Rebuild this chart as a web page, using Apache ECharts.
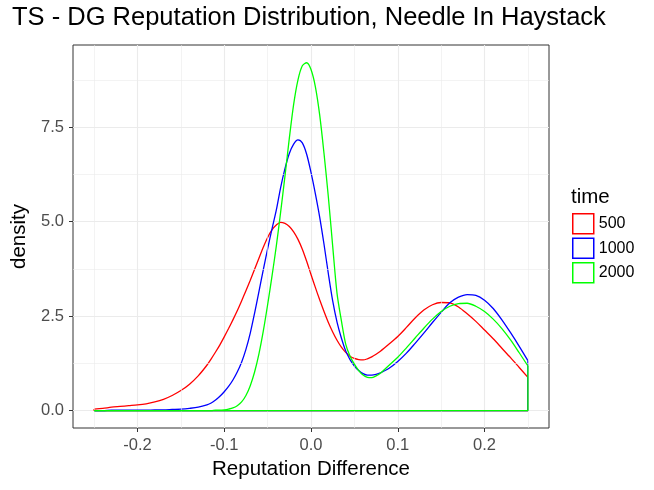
<!DOCTYPE html>
<html>
<head>
<meta charset="utf-8">
<title>TS - DG Reputation Distribution, Needle In Haystack</title>
<script src="https://cdn.jsdelivr.net/npm/echarts@6/dist/echarts.min.js"></script>
<style>
    html, body { margin: 0; padding: 0; background: #ffffff; }
    #chart { width: 654px; height: 490px; }
</style>
</head>
<body>
<div id="chart"></div>
<script>
// reputation difference (x) shared by the three density curves,
// a finer step around the peaks
const xs = [
    -0.25, -0.24, -0.23, -0.22, -0.21, -0.20, -0.19, -0.18, -0.17, -0.16, -0.15, -0.14, -0.13,
    -0.12, -0.115, -0.11, -0.105, -0.10, -0.095, -0.09, -0.085, -0.08, -0.075,
    -0.07, -0.065, -0.06, -0.055, -0.05, -0.045, -0.04, -0.035, -0.03, -0.025,
    -0.02, -0.015, -0.01, -0.005, 0.00, 0.005, 0.01, 0.015, 0.02, 0.025,
    0.03, 0.035, 0.04, 0.045, 0.05, 0.055, 0.06, 0.065, 0.07, 0.075,
    0.08,
    0.09, 0.10, 0.11, 0.12, 0.13, 0.14, 0.15, 0.16, 0.17, 0.18, 0.19, 0.20, 0.21, 0.22, 0.23, 0.24, 0.25
];

// density values, one array per time
const density500 = [
    0.04, 0.06, 0.09, 0.11, 0.13, 0.15, 0.18, 0.23, 0.30, 0.40, 0.53, 0.70, 0.92,
    1.20, 1.37, 1.55, 1.74, 1.95, 2.17, 2.40, 2.64, 2.90, 3.17,
    3.45, 3.74, 4.03, 4.32, 4.58, 4.78, 4.91, 4.98, 4.95, 4.87,
    4.73, 4.53, 4.27, 3.95, 3.60, 3.26, 2.93, 2.62, 2.33, 2.08,
    1.86, 1.68, 1.54, 1.44, 1.38, 1.35, 1.34, 1.37, 1.42, 1.49,
    1.57,
    1.76, 1.96, 2.20, 2.45, 2.66, 2.80, 2.86, 2.85, 2.74, 2.56, 2.36, 2.13, 1.90, 1.65, 1.40, 1.14, 0.88
];
const density1000 = [
    0.00, 0.00, 0.01, 0.01, 0.01, 0.01, 0.01, 0.02, 0.02, 0.03, 0.04, 0.06, 0.09,
    0.15, 0.20, 0.28, 0.38, 0.50, 0.64, 0.81, 1.02, 1.28, 1.62,
    2.05, 2.58, 3.15, 3.72, 4.28, 4.80, 5.30, 5.90, 6.40, 6.80,
    7.05, 7.16, 7.08, 6.78, 6.30, 5.74, 5.12, 4.40, 3.62, 2.90,
    2.34, 1.92, 1.58, 1.35, 1.18, 1.06, 0.98, 0.94, 0.94, 0.96,
    1.00,
    1.12, 1.30, 1.52, 1.78, 2.05, 2.33, 2.60, 2.85, 3.00, 3.07, 3.05, 2.92, 2.70, 2.40, 2.06, 1.70, 1.32
];
const density2000 = [
    0.00, 0.00, 0.00, 0.00, 0.00, 0.00, 0.00, 0.00, 0.00, 0.00, 0.00, 0.00, 0.00,
    0.00, 0.00, 0.01, 0.01, 0.02, 0.04, 0.07, 0.13, 0.23, 0.40,
    0.66, 1.02, 1.50, 2.10, 2.80, 3.55, 4.35, 5.25, 6.20, 7.20,
    8.10, 8.75, 9.12, 9.20, 9.02, 8.57, 7.82, 6.80, 5.65, 4.35,
    3.10, 2.38, 1.76, 1.44, 1.23, 1.06, 0.94, 0.88, 0.87, 0.92,
    0.99,
    1.20, 1.41, 1.66, 1.92, 2.18, 2.42, 2.62, 2.76, 2.83, 2.84, 2.76, 2.62, 2.42, 2.17, 1.87, 1.53, 1.18
];

const times = ['500', '1000', '2000'];
const colors = ['#ff0000', '#0000ff', '#00ff00'];
const densities = [density500, density1000, density2000];

const xTicks = [-0.2, -0.1, 0, 0.1, 0.2];
const xMinor = [-0.25, -0.15, -0.05, 0.05, 0.15, 0.25];
const yTicks = [0, 2.5, 5, 7.5];
const yMinor = [1.25, 3.75, 6.25, 8.75];

const font = '"Liberation Sans", Arial, Helvetica, sans-serif';

function buildSeries() {
    let series = [];
    // minor grid lines, drawn under the curves
    series.push({
        type: 'line',
        name: 'minor-grid',
        data: [],
        silent: true,
        z: 1,
        markLine: {
            silent: true,
            symbol: ['none', 'none'],
            label: { show: false },
            animation: false,
            lineStyle: { color: '#ebebeb', width: 0.6, type: 'solid' },
            data: xMinor.map(v => ({ xAxis: v })).concat(yMinor.map(v => ({ yAxis: v })))
        }
    });
    densities.forEach(function (arr, i) {
        let last = arr.length - 1;
        // the density curve itself
        series.push({
            type: 'line',
            name: times[i],
            data: xs.map((x, k) => [x, arr[k]]),
            smooth: 0.3,
            symbol: 'none',
            silent: true,
            z: 3 + i,
            lineStyle: { color: colors[i], width: 1.3 },
            itemStyle: { color: colors[i] }
        });
        // outline closing the polygon down to the baseline
        series.push({
            type: 'line',
            name: times[i],
            data: [[xs[last], arr[last]], [xs[last], 0], [xs[0], 0], [xs[0], arr[0]]],
            symbol: 'none',
            silent: true,
            z: 3 + i,
            lineStyle: { color: colors[i], width: 1.3 },
            itemStyle: { color: colors[i] }
        });
    });
    return series;
}

let chart = echarts.init(document.getElementById('chart'));
let option = {
    animation: false,
    backgroundColor: '#ffffff',
    textStyle: { fontFamily: font },
    title: [
        {
            text: 'TS - DG Reputation Distribution, Needle In Haystack',
            left: 12,
            top: 5,
            padding: 0,
            textStyle: { fontFamily: font, fontSize: 25.5, fontWeight: 'normal', color: '#000000' }
        },
        {
            text: 'time',
            left: 571,
            top: 187,
            padding: 0,
            textStyle: { fontFamily: font, fontSize: 20.5, fontWeight: 'normal', color: '#000000' }
        }
    ],
    legend: {
        orient: 'vertical',
        left: 572,
        top: 213,
        padding: 0,
        itemWidth: 21,
        itemHeight: 20,
        itemGap: 3,
        icon: 'rect',
        selectedMode: false,
        textStyle: { fontFamily: font, fontSize: 16, color: '#000000' },
        data: times.map((t, i) => ({
            name: t,
            itemStyle: { color: 'rgba(0,0,0,0)', borderColor: colors[i], borderWidth: 1.5 }
        }))
    },
    grid: {
        left: 73,
        top: 45,
        width: 476,
        height: 383,
        show: true,
        borderColor: '#333333',
        borderWidth: 1,
        backgroundColor: '#ffffff',
        containLabel: false
    },
    xAxis: {
        type: 'value',
        min: -0.2743,
        max: 0.2743,
        name: 'Reputation Difference',
        nameLocation: 'middle',
        nameGap: 30,
        nameTextStyle: { fontFamily: font, fontSize: 20.5, color: '#000000' },
        axisLine: { show: false, onZero: false },
        axisTick: { show: true, length: 4, customValues: xTicks, lineStyle: { color: '#333333' } },
        axisLabel: {
            customValues: xTicks,
            formatter: v => v.toFixed(1),
            color: '#4d4d4d',
            fontSize: 16.5,
            margin: 9,
            fontFamily: font
        },
        splitLine: { show: true, lineStyle: { color: '#ebebeb', width: 1.1 } }
    },
    yAxis: {
        type: 'value',
        min: -0.46,
        max: 9.67,
        name: 'density',
        nameLocation: 'middle',
        nameGap: 43,
        nameTextStyle: { fontFamily: font, fontSize: 20.5, color: '#000000' },
        axisLine: { show: false, onZero: false },
        axisTick: { show: true, length: 4, customValues: yTicks, lineStyle: { color: '#333333' } },
        axisLabel: {
            customValues: yTicks,
            formatter: v => v.toFixed(1),
            color: '#4d4d4d',
            fontSize: 16.5,
            margin: 9,
            fontFamily: font
        },
        splitLine: { show: true, lineStyle: { color: '#ebebeb', width: 1.1 } }
    },
    series: buildSeries()
};
chart.setOption(option);
</script>
</body>
</html>
